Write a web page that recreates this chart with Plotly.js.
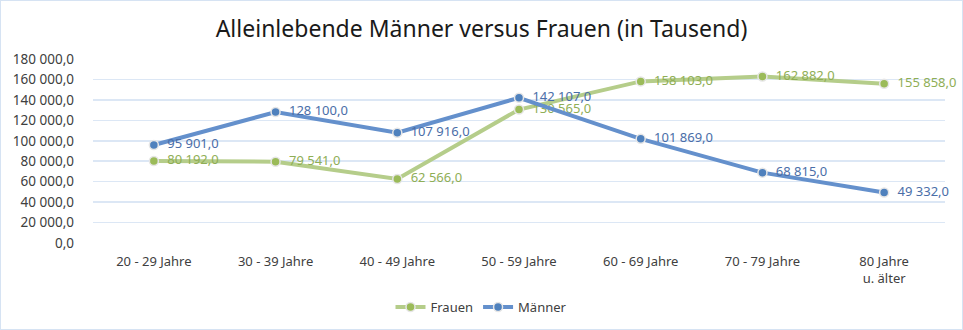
<!DOCTYPE html>
<html><head><meta charset="utf-8">
<script src="https://cdn.plot.ly/plotly-3.0.1.min.js"></script>
<style>html,body{margin:0;padding:0;background:#fff}#c{width:963px;height:330px;box-sizing:border-box;border:1px solid #d6e3f3}</style>
</head><body><div id="c"></div>
<script>
const categories = ["20 - 29 Jahre","30 - 39 Jahre","40 - 49 Jahre","50 - 59 Jahre","60 - 69 Jahre","70 - 79 Jahre","80 Jahre<br>u. älter"];
const frauen = [80192, 79541, 62566, 130565, 158103, 162882, 155858];
const maenner = [95901, 128100, 107916, 142107, 101869, 68815, 49332];
const yTicks = [0,20000,40000,60000,80000,100000,120000,140000,160000,180000];

const font = "Noto Sans, sans-serif";
function tr(name, y, lineColor, markerColor, textColor){
  return {
    type:"scatter", mode:"lines+markers+text", name:name, x:categories, y:y,
    line:{color:lineColor, width:4},
    marker:{color:markerColor, size:9, line:{color:"#e6e6e6", width:1.5}},
    texttemplate:"  %{y:,.1f}", textposition:"middle right",
    textfont:{family:font, size:13, color:textColor},
    cliponaxis:false, hoverinfo:"skip"
  };
}
const data = [
  tr("Frauen", frauen, "#b5cd8a", "#9bbb59", "#8fae55"),
  tr("Männer", maenner, "#6490cc", "#4f81bd", "#4a6ea8")
];
const layout = {
  width:961, height:328,
  margin:{l:92, r:17, t:58, b:86, autoexpand:false},
  paper_bgcolor:"#fff", plot_bgcolor:"#fff",
  separators:", ",
  title:{text:"Alleinlebende Männer versus Frauen (in Tausend)", x:0.5, xanchor:"center", y:0.915, yanchor:"middle",
    font:{family:font, size:23, color:"#1a1a1a"}},
  xaxis:{type:"category", range:[-0.5,6.5], showgrid:false, zeroline:false, showline:false, ticks:"",
    tickfont:{family:font, size:13, color:"#404040"}, ticklabelstandoff:9},
  yaxis:{range:[0,180000], tickvals:yTicks, tickformat:",.1f", showgrid:true, gridcolor:"#dce7f5", gridwidth:1.5,
    zeroline:false, showline:false, ticks:"", ticklen:0, ticklabelstandoff:18,
    tickfont:{family:font, size:13.5, color:"#404040"}},
  showlegend:true,
  legend:{orientation:"h", x:0.5, xanchor:"center", xref:"container", y:0.067, yanchor:"middle", yref:"container",
    font:{family:font, size:13, color:"#404040"}},
};
Plotly.newPlot("c", data, layout, {displayModeBar:false, staticPlot:true});
</script></body></html>
